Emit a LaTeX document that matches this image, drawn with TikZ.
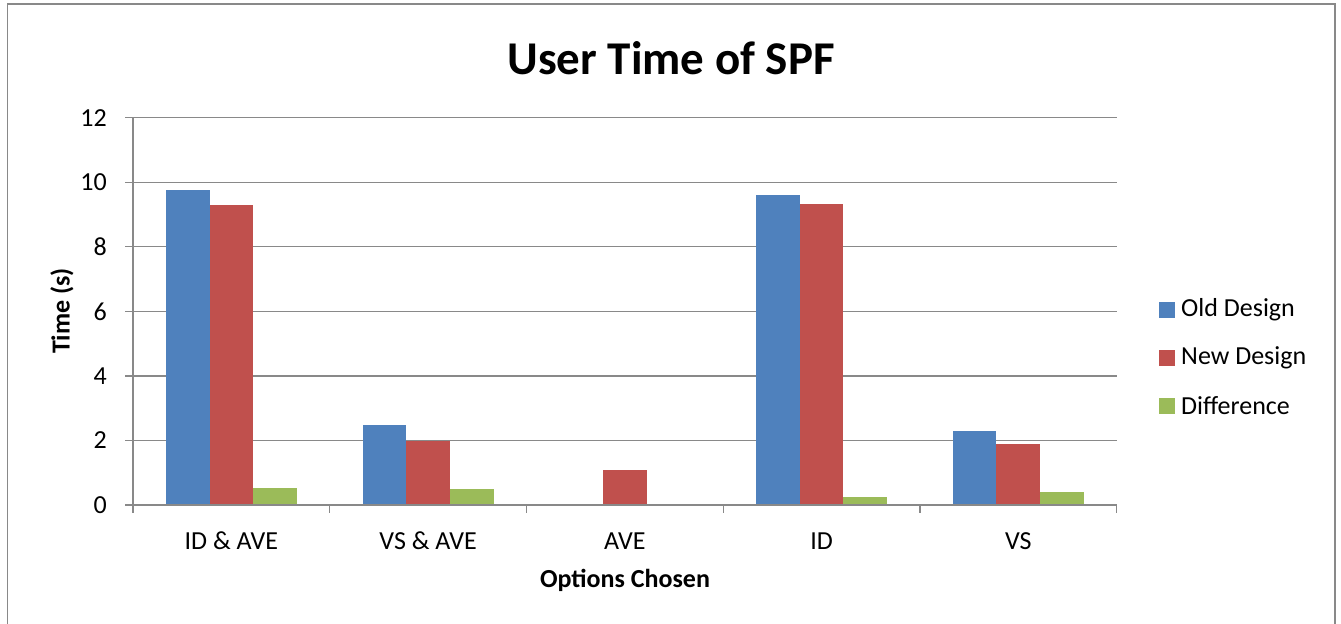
\documentclass[tikz,border=0pt]{standalone}
\usepackage{fontspec}
\setmainfont{Carlito}
\definecolor{olddesign}{HTML}{4F81BD}
\definecolor{newdesign}{HTML}{C0504D}
\definecolor{diffbar}{HTML}{9BBB59}
\definecolor{gridgrey}{HTML}{898989}
\begin{document}
\begin{tikzpicture}[x=1bp,y=-1bp,
  chartframe/.style={draw=gridgrey,line width=1.6bp},
  gridline/.style={draw=gridgrey,line width=1.3bp},
  axisline/.style={draw=gridgrey,line width=1.3bp},
  ticklabel/.style={font=\fontsize{26bp}{30bp}\selectfont,inner sep=0pt},
  axistitle/.style={font=\fontsize{26bp}{30bp}\selectfont\bfseries,inner sep=0pt},
  legendkey/.style={minimum width=16bp,minimum height=16bp,inner sep=0pt},
  legendtext/.style={font=\fontsize{26bp}{30bp}\selectfont,inner sep=0pt,anchor=west}]
\useasboundingbox (0,0) rectangle (1341,624);
% outer chart frame (open at the bottom)
\draw[chartframe] (7.5,640) -- (7.5,4) -- (1335,4) -- (1335,640);
% title
\node[font=\fontsize{47bp}{54bp}\selectfont\bfseries,inner sep=0pt] (title) at (671,58) {User Time of SPF};
% plot area geometry
\def\xl{133}\def\xr{1116.7}\def\yz{505}\def\unit{32.28}
% horizontal gridlines and y tick labels
\foreach \v in {0,2,...,12}{
  \pgfmathsetmacro{\yy}{\yz-\v*\unit}
  \draw[gridline] (125,\yy) -- (\xr,\yy);
  \node[ticklabel,anchor=east] (ylab\v) at (107,\yy) {\v};
}
% y axis
\draw[axisline] (\xl,118) -- (\xl,\yz);
% category ticks
\foreach \i in {0,...,5}{
  \pgfmathsetmacro{\xx}{\xl+\i*196.74}
  \draw[axisline] (\xx,\yz) -- (\xx,513);
}
% bars: category, old, new, difference
\def\bw{43.7}
\foreach \lab/\o/\n/\d [count=\i from 0] in {ID \& AVE/9.77/9.28/0.52, VS \& AVE/2.47/1.97/0.50, AVE/0/1.08/0, ID/9.59/9.32/0.26, VS/2.28/1.90/0.40}{
  \pgfmathsetmacro{\xs}{\xl+\i*196.74+32.8}
  \pgfmathsetmacro{\xc}{\xl+\i*196.74+98.37}
  \fill[olddesign] (\xs,\yz) rectangle ({\xs+\bw},{\yz-\o*\unit});
  \fill[newdesign] ({\xs+\bw},\yz) rectangle ({\xs+2*\bw},{\yz-\n*\unit});
  \fill[diffbar] ({\xs+2*\bw},\yz) rectangle ({\xs+3*\bw},{\yz-\d*\unit});
  \node[ticklabel] (cat\i) at (\xc,541) {\lab};
}
% zero line on top of bars
\draw[axisline] (125,\yz) -- (\xr,\yz);
% axis titles
\node[axistitle,rotate=90] (ytitle) at (62,311) {Time (s)};
\node[axistitle] (xtitle) at (625,580) {Options Chosen};
% legend
\node[legendkey,fill=olddesign] (k1) at (1167,310) {};
\node[legendtext] (t1) at (1181,310) {Old Design};
\node[legendkey,fill=newdesign] (k2) at (1167,358) {};
\node[legendtext] (t2) at (1181,358) {New Design};
\node[legendkey,fill=diffbar] (k3) at (1167,406) {};
\node[legendtext] (t3) at (1181,406) {Difference};
\end{tikzpicture}
\end{document}
